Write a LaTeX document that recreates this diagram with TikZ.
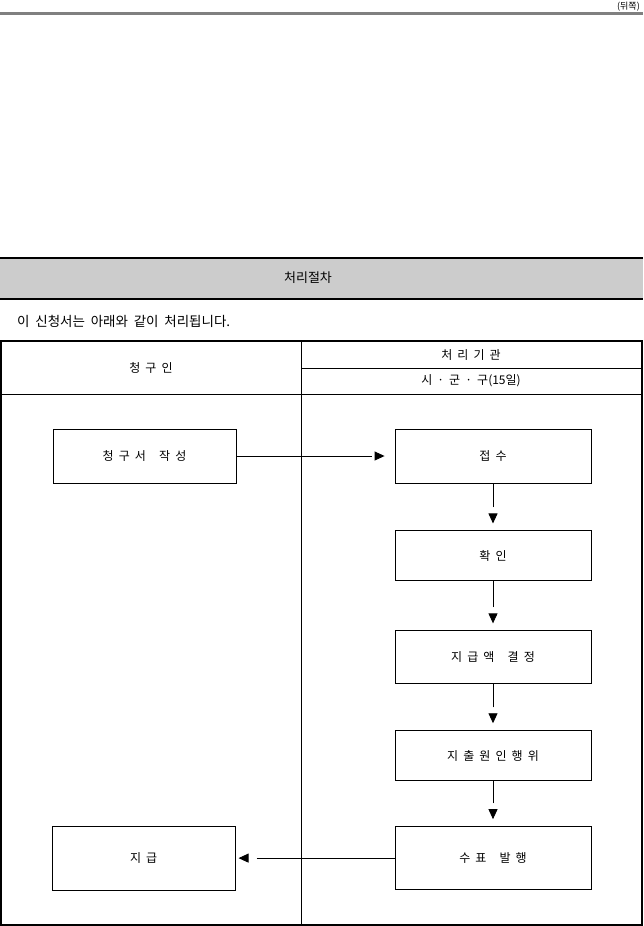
\documentclass[tikz,border=0pt]{standalone}
\usepackage{fontspec}
\setmainfont[WordSpace=1.9]{Noto Sans CJK KR}
\usetikzlibrary{arrows.meta,positioning}

\begin{document}
\begin{tikzpicture}[
    x=1pt, y=-1pt,
    node distance=47pt,
    font=\fontsize{12}{14}\selectfont,
    procbox/.style={rectangle, draw=black, line width=0.9pt, inner sep=0pt, text centered, minimum width=196pt, minimum height=50pt},
    userbox/.style={procbox, minimum width=183pt},
    rule/.style={line width=0.9pt},
    flow/.style 2 args={line width=0.9pt, shorten >=#2,
        -{Triangle[length=0.01pt,width=0.01pt,sep=#1] . Triangle[length=10pt,width=9pt]}}
]
    \useasboundingbox (0,0) rectangle (643,926);

    % page top
    \draw[black!50, line width=3pt] (0,13) -- (643,13);
    \node[anchor=south east, inner sep=0pt, font=\fontsize{9}{10}\selectfont] (side) at (640,11) {(뒤쪽)};

    % section title
    \fill[black!20] (0,258) rectangle (643,299);
    \draw[line width=1.2pt] (0,258) -- (643,258);
    \draw[line width=1.2pt] (0,299) -- (643,299);
    \node[font=\fontsize{13}{15}\selectfont] (title) at (308,278) {처리절차};
    \node[anchor=west, inner sep=0pt, font=\fontsize{13.5}{15}\selectfont] (intro) at (17,321) {이 신청서는 아래와 같이 처리됩니다.};

    % table frame
    \draw[line width=1.2pt] (1,341) rectangle (642,925);
    \draw[rule] (301,341) -- (301,925);
    \draw[rule] (301,368) -- (642,368);
    \draw[rule] (1,394) -- (642,394);
    \node (claimant) at (151,368) {청 구 인};
    \node (agency) at (471,355) {처 리 기 관};
    \node (office) at (471,381) {시 · 군 · 구(15일)};

    % flow boxes
    \node[procbox, minimum height=54pt] (receive) at (493,456) {접 수};
    \node[procbox, below=47pt of receive] (confirm) {확 인};
    \node[procbox, below=49pt of confirm, minimum height=53pt] (decide) {지 급 액\hspace{8pt} 결 정};
    \node[procbox, below=46pt of decide] (act) {지 출 원 인 행 위};
    \node[procbox, below=45pt of act, minimum height=63pt] (issue) {수 표\hspace{8pt} 발 행};
    \node[userbox, minimum height=54pt] (write) at (144.5,456) {청 구 서\hspace{8pt} 작 성};
    \node[userbox, left=159pt of issue, minimum height=64pt] (pay) {지 급};

    \draw[flow={3pt}{10pt}] (write) -- (receive);
    \draw[flow={6pt}{7pt}] (receive) -- (confirm);
    \draw[flow={6pt}{7pt}] (confirm) -- (decide);
    \draw[flow={6pt}{7pt}] (decide) -- (act);
    \draw[flow={6pt}{7pt}] (act) -- (issue);
    \draw[flow={8pt}{3pt}] (issue) -- (pay);
\end{tikzpicture}
\end{document}
